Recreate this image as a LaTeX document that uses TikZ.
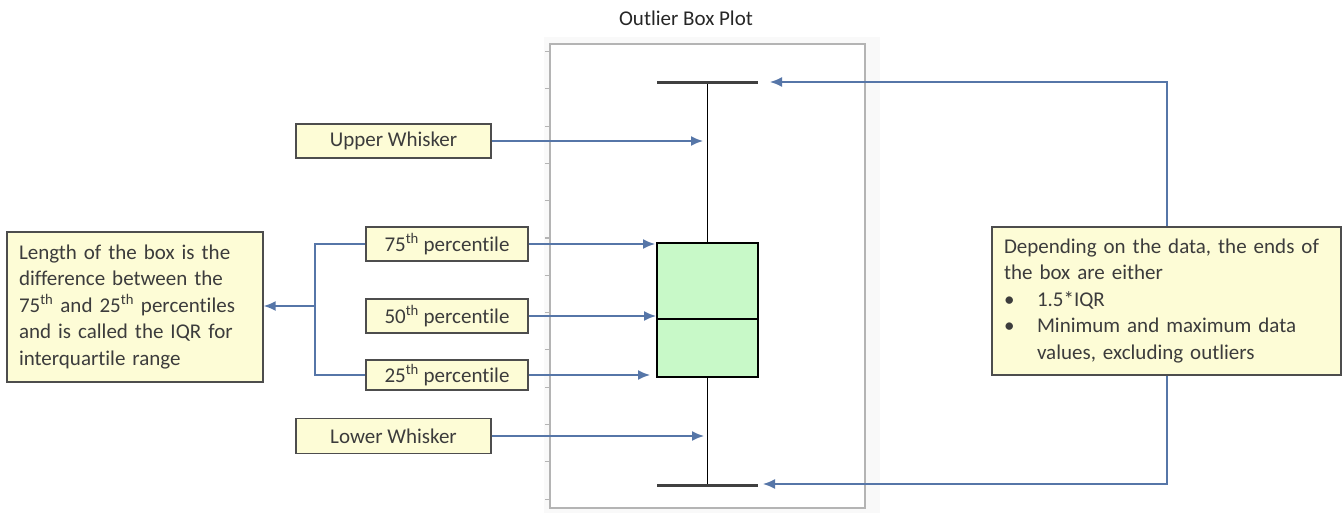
\documentclass[tikz,border=0pt]{standalone}
\usepackage{fontspec}
\setmainfont{Carlito}[Ligatures=NoCommon]
\usetikzlibrary{arrows.meta}
\definecolor{labfill}{HTML}{FDFCD6}
\definecolor{labdraw}{HTML}{4D4D4D}
\definecolor{labtext}{HTML}{3C3C3C}
\definecolor{arrblue}{HTML}{5676A8}
\definecolor{boxgreen}{HTML}{C8F9C8}
\definecolor{framegray}{HTML}{B4B4B4}
\begin{document}
\begin{tikzpicture}[x=1pt,y=-1pt,
  lab/.style={draw=labdraw, fill=labfill, line width=1.4pt, text=labtext, inner sep=0pt,
    font=\fontsize{21}{26.5}\selectfont, align=center},
  note/.style={draw=labdraw, fill=labfill, line width=1.4pt, text=labtext, inner ysep=0pt,
    font=\fontsize{21}{26.5}\selectfont, align=left},
  conn/.style={draw=arrblue, line width=1.6pt},
  arr/.style={conn, -{Latex[length=12pt,width=10pt]}},
  capline/.style={draw=black!75, line width=3pt},
  plotline/.style={draw=black, line width=1.8pt}]
\useasboundingbox (0,0) rectangle (1343,513);
% plot area
\fill[black!2.5] (544,37) rectangle (880,513);
\draw[framegray, fill=white, line width=1.5pt] (550,44) rectangle (865,508);
\foreach \k in {0,...,12} {
  \draw[framegray, line width=1.1pt] (545,51.5+37.3*\k) -- (550,51.5+37.3*\k);
}
\node[font=\fontsize{21}{26}\selectfont, text=black!85] (title) at (686,18) {Outlier Box Plot};
% box plot
\coordinate (wtop) at (707.5,83);
\coordinate (wbot) at (707.5,485);
\draw[plotline] (wtop) -- (707.5,243);
\draw[plotline] (707.5,377) -- (wbot);
\node[draw=black, fill=boxgreen, line width=1.8pt, minimum width=101pt, minimum height=134pt, inner sep=0pt] (box) at (707.5,310) {};
\draw[plotline] (657,319) -- (758,319);
\draw[capline] (657,83) -- (758,83);
\draw[capline] (657,485) -- (758,485);
% labels
\node[lab, minimum width=195pt, minimum height=34pt] (uw) at (393.5,141) {Upper Whisker};
\node[lab, minimum width=162pt, minimum height=34pt] (p75) at (447,244) {75\textsuperscript{th} percentile};
\node[lab, minimum width=162pt, minimum height=34pt] (p50) at (447,316) {50\textsuperscript{th} percentile};
\node[lab, minimum width=162pt, minimum height=30pt] (p25) at (447,375) {25\textsuperscript{th} percentile};
\node[lab, minimum width=195pt, minimum height=35pt] (lw) at (393.5,436) {Lower Whisker};
% left note
\node[note, text width=232pt, inner xsep=12pt, minimum height=150pt] (lb) at (135,307)
  {Length of the box is the\\difference between the\\75\textsuperscript{th} and 25\textsuperscript{th} percentiles\\and is called the IQR for\\interquartile range};
% right note
\node[note, text width=325pt, inner xsep=12pt, minimum height=148pt] (rb) at (1166.5,301)
  {Depending on the data, the ends of\\the box are either\\\makebox[33pt][l]{\textbullet}1.5*IQR\\\makebox[33pt][l]{\textbullet}Minimum and maximum data\\\hspace*{33pt}values, excluding outliers};
% arrows to plot
\coordinate (tuw) at (703,141);
\coordinate (t75) at (655,244);
\coordinate (t50) at (656,316);
\coordinate (t25) at (650,375);
\coordinate (tlw) at (704,436);
\draw[arr] (uw.east) -- (tuw);
\draw[arr] (p75.east) -- (t75);
\draw[arr] (p50.east) -- (t50);
\draw[arr] (p25.east) -- (t25);
\draw[arr] (lw.east) -- (tlw);
% bracket
\coordinate (br) at (315,306);
\draw[conn] (p75.west) -| (br) |- (p25.west);
\draw[arr] (br) -- (lb.east |- br);
% right connectors
\coordinate (rtop) at (1167,82);
\coordinate (rbot) at (1167,484);
\coordinate (ttop) at (770,82);
\coordinate (tbot) at (763,484);
\draw[arr] (rb.north -| rtop) -- (rtop) -- (ttop);
\draw[arr] (rb.south -| rbot) -- (rbot) -- (tbot);
\end{tikzpicture}
\end{document}
